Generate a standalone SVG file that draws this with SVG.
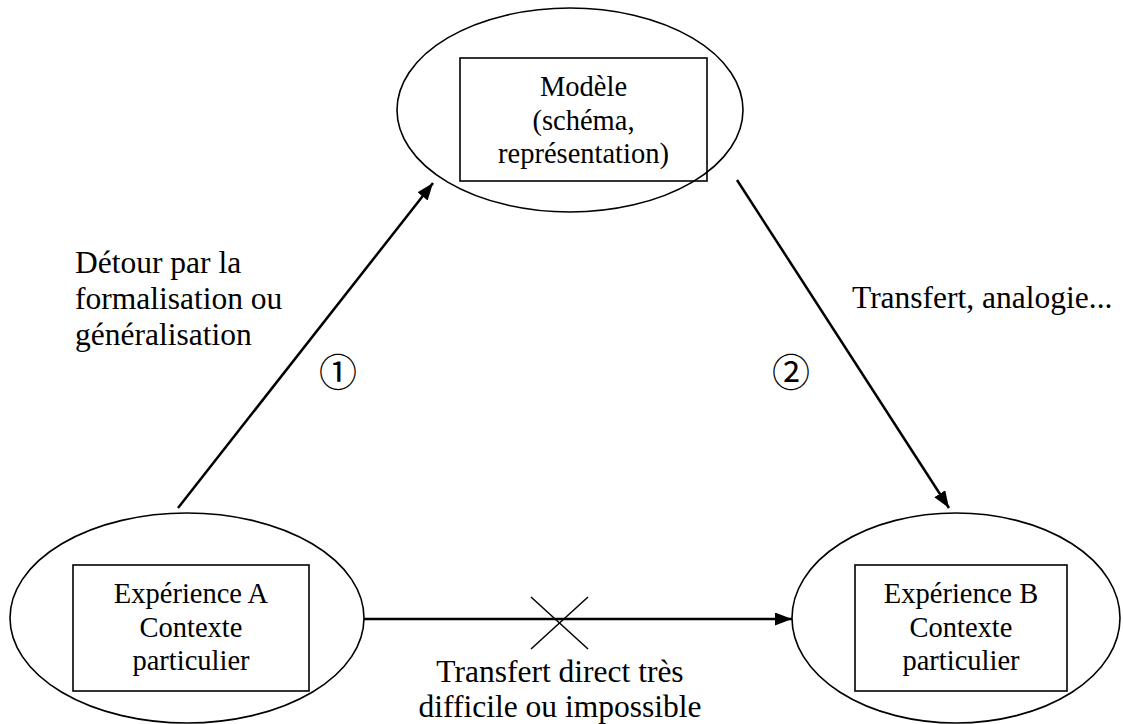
<svg xmlns="http://www.w3.org/2000/svg" width="1123" height="724" viewBox="0 0 1123 724">
<style>
.el{fill:none;stroke:#000;stroke-width:1.6}
.bx{fill:none;stroke:#000;stroke-width:1.6}
.t{font-family:"Liberation Serif","Times New Roman",serif;fill:#000}
.bt{font-size:28.5px;text-anchor:middle}
.lt{font-size:31.5px}
.cn{font-family:"Noto Sans CJK JP","DejaVu Sans",sans-serif;font-size:38px;text-anchor:middle;fill:#000}
.ar{stroke:#000;stroke-width:2.5;fill:none;marker-end:url(#ah)}
</style>
<defs>
<marker id="ah" markerUnits="userSpaceOnUse" markerWidth="20" markerHeight="14" refX="17" refY="6.5" orient="auto">
<path d="M0,0 L17,6.5 L0,13 Z" fill="#000"/>
</marker>
</defs>
<rect width="1123" height="724" fill="#fff"/>
<g id="modele">
<ellipse class="el" cx="570" cy="110" rx="173" ry="102"/>
<rect class="bx" x="460" y="58" width="247" height="123"/>
<text class="t bt" x="583.5" y="96">Modèle</text>
<text class="t bt" x="583.5" y="130">(schéma,</text>
<text class="t bt" x="583.5" y="163">représentation)</text>
</g>
<g id="experienceA">
<ellipse class="el" cx="187" cy="618" rx="177" ry="105"/>
<rect class="bx" x="73" y="565" width="236" height="126"/>
<text class="t bt" x="191" y="603">Expérience A</text>
<text class="t bt" x="191" y="637">Contexte</text>
<text class="t bt" x="191" y="670">particulier</text>
</g>
<g id="experienceB">
<ellipse class="el" cx="956" cy="618" rx="164" ry="105"/>
<rect class="bx" x="855" y="565" width="212" height="126"/>
<text class="t bt" x="961" y="603">Expérience B</text>
<text class="t bt" x="961" y="637">Contexte</text>
<text class="t bt" x="961" y="670">particulier</text>
</g>
<g id="connectors">
<line class="ar" x1="178" y1="508" x2="433" y2="183"/>
<line class="ar" x1="737" y1="180" x2="949" y2="508"/>
<line class="ar" x1="364" y1="619" x2="792" y2="619"/>
<line x1="531" y1="597" x2="588" y2="649" stroke="#000" stroke-width="1.5"/>
<line x1="588" y1="597" x2="531" y2="649" stroke="#000" stroke-width="1.5"/>
</g>
<g id="labels">
<text class="t lt" x="75" y="273">Détour par la</text>
<text class="t lt" x="75" y="309">formalisation ou</text>
<text class="t lt" x="75" y="345">généralisation</text>
<text class="t lt" x="852" y="308">Transfert, analogie...</text>
<text class="t lt" x="560" y="682" text-anchor="middle">Transfert direct très</text>
<text class="t lt" x="560" y="717" text-anchor="middle">difficile ou impossible</text>
<text class="cn" x="338" y="386">①</text>
<text class="cn" x="791" y="386">②</text>
</g>
</svg>
